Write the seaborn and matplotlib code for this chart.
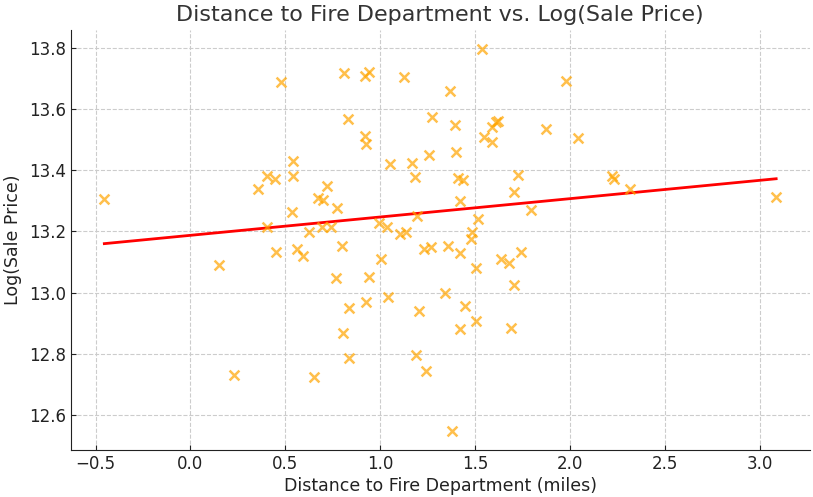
import numpy as np
import pandas as pd
import matplotlib
matplotlib.use("Agg")
import matplotlib.pyplot as plt
import seaborn as sns

# distance to fire department (miles)
distance = [
    -0.454, 0.148, 0.227, 0.354, 0.401, 0.443, 0.475, 0.538, 0.538, 0.533,
    0.670, 0.697, 0.406, 0.449, 0.559, 0.591, 0.623, 0.649, 0.718, 0.770,
    0.691, 0.739, 0.797, 0.765, 0.807, 0.828, 0.834, 0.802, 0.834, 0.918,
    0.939, 0.918, 0.923, 0.939, 0.923, 0.992, 1.034, 1.003, 1.040, 1.050,
    1.103, 1.135, 1.124, 1.166, 1.182, 1.193, 1.187, 1.203, 1.230, 1.266,
    1.240, 1.256, 1.272, 1.340, 1.356, 1.367, 1.377, 1.393, 1.398, 1.409,
    1.435, 1.420, 1.420, 1.420, 1.446, 1.478, 1.483, 1.504, 1.504, 1.515,
    1.536, 1.546, 1.588, 1.609, 1.620, 1.588, 1.636, 1.678, 1.689, 1.704,
    1.704, 1.726, 1.741, 1.794, 1.873, 1.979, 2.042, 2.222, 2.232, 2.317,
    3.087,
]

# log of sale price
log_price = [
    13.305, 13.089, 12.731, 13.338, 13.380, 13.370, 13.689, 13.430, 13.380, 13.262,
    13.308, 13.302, 13.216, 13.134, 13.144, 13.121, 13.197, 12.725, 13.348, 13.275,
    13.213, 13.213, 13.151, 13.046, 13.718, 13.567, 12.948, 12.866, 12.787, 13.708,
    13.721, 13.511, 13.485, 13.052, 12.970, 13.226, 13.216, 13.111, 12.984, 13.420,
    13.193, 13.197, 13.705, 13.423, 13.377, 13.249, 12.797, 12.938, 13.144, 13.148,
    12.744, 13.449, 13.574, 12.997, 13.151, 13.659, 12.548, 13.548, 13.459, 13.374,
    13.367, 13.298, 13.128, 12.882, 12.957, 13.174, 13.197, 13.079, 12.908, 13.239,
    13.797, 13.508, 13.541, 13.557, 13.561, 13.492, 13.111, 13.098, 12.885, 13.328,
    13.026, 13.384, 13.131, 13.269, 13.534, 13.692, 13.505, 13.380, 13.370, 13.338,
    13.311,
]

df = pd.DataFrame({"distance": distance, "log_price": log_price})

fig = plt.figure(figsize=(8.13, 4.97), dpi=100)
ax = fig.add_axes([0.087, 0.095, 0.909, 0.845])

sns.scatterplot(data=df, x="distance", y="log_price", marker="x", color="orange",
                alpha=0.7, s=50, linewidth=1.8, ax=ax, zorder=3)
sns.regplot(data=df, x="distance", y="log_price", scatter=False, ci=None,
            color="red", line_kws={"linewidth": 2}, ax=ax)

ax.set_title("Distance to Fire Department vs. Log(Sale Price)", fontsize=16, color="#333333")
ax.set_xlabel("Distance to Fire Department (miles)", fontsize=12.5, color="#222222", labelpad=3)
ax.set_ylabel("Log(Sale Price)", fontsize=12.5, color="#222222", labelpad=5)
ax.tick_params(labelsize=12, colors="#222222", direction="in")
ax.grid(True, linestyle="--", color="#cccccc", linewidth=0.8)
ax.set_axisbelow(True)
ax.spines["top"].set_visible(False)
ax.spines["right"].set_visible(False)
ax.spines["left"].set_color("#222222")
ax.spines["bottom"].set_color("#222222")

fig.savefig("out.png", dpi=100)
